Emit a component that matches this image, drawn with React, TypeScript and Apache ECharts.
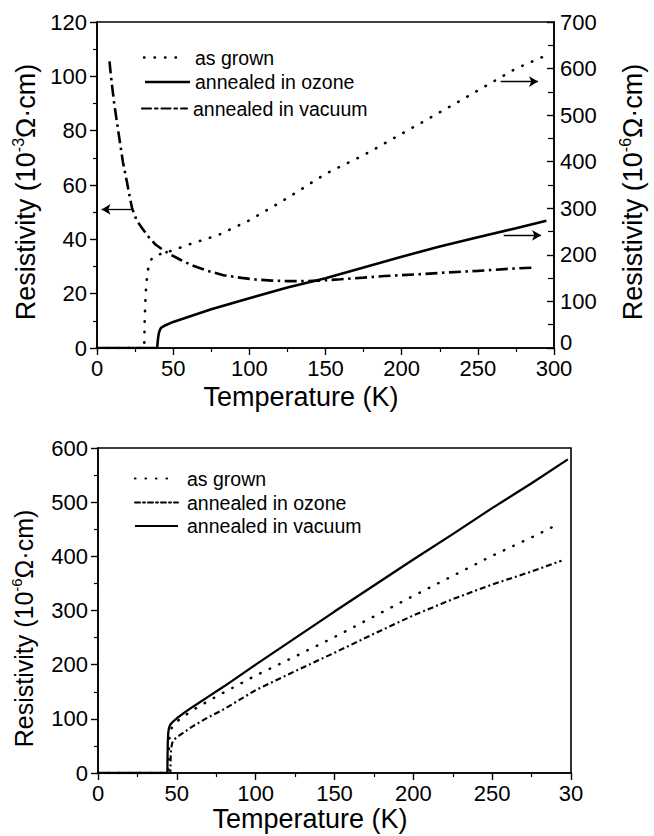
import React, { useEffect, useRef } from "react";
import * as echarts from "echarts";

const FONT = "'Liberation Sans', Arial, Helvetica, sans-serif";

// ---- Top panel: temperature (K) and resistivity ----
// as grown (right axis, 10^-6 Ω·cm)
const topGrownT = [0, 31, 31.3, 31.8, 32.3, 33.3, 34.4, 36, 38.6, 45, 50, 60, 80, 100, 125, 150, 175, 200, 225, 250, 275, 294];
const topGrownRho = [0, 0, 60, 105, 135, 165, 182, 192, 199, 205, 210, 222, 243, 274, 322, 374, 414, 460, 506, 553, 600, 627];
// annealed in ozone (right axis, 10^-6 Ω·cm)
const topOzoneT = [0, 39.5, 39.8, 40.2, 40.7, 41.3, 42, 45, 50, 75, 100, 125, 150, 175, 200, 225, 250, 275, 295];
const topOzoneRho = [0, 0, 12, 24, 33, 39, 43, 49, 56, 83, 107, 130, 150, 173, 196, 218, 238, 257, 273];
// annealed in vacuum (left axis, 10^-3 Ω·cm)
const topVacT = [8.2, 9, 10, 11.3, 13, 14.5, 17, 19.7, 21, 23, 26, 30, 34, 38.6, 43, 47, 55, 62, 72, 83, 95, 104, 115, 125, 135, 146, 160, 175, 189, 210, 230, 250, 272, 288];
const topVacRho = [105.5, 101, 96, 90, 83.5, 77.8, 68.5, 61, 57, 51.5, 47, 43.8, 40.8, 38, 36.2, 34.8, 32.4, 30.5, 28.5, 26.8, 25.8, 25.2, 24.8, 24.6, 24.6, 24.8, 25.3, 25.9, 26.5, 27.1, 27.8, 28.4, 29.2, 29.6];

// ---- Bottom panel (10^-6 Ω·cm) ----
const botGrownT = [0, 44.7, 44.9, 45.2, 45.6, 46.5, 48, 50, 55, 60, 70, 80, 100, 125, 150, 175, 200, 225, 250, 275, 293];
const botGrownRho = [0, 0, 35, 60, 73, 82, 89, 95, 106, 116, 133, 149, 180, 215, 251, 289, 327, 364, 401, 435, 461];
const botOzoneT = [0, 45.9, 46.1, 46.4, 47, 48, 50, 55, 60, 70, 80, 100, 125, 150, 175, 200, 225, 250, 275, 294];
const botOzoneRho = [0, 0, 30, 45, 55, 61, 66, 76, 86, 103, 118, 153, 188, 222, 257, 291, 321, 348, 372, 392];
const botVacT = [0, 44, 44.1, 44.3, 44.6, 45, 46, 48, 50, 55, 60, 70, 80, 100, 125, 150, 175, 200, 225, 250, 275, 298];
const botVacRho = [0, 0, 30, 60, 75, 83, 90, 96, 101, 112, 122, 141, 160, 200, 249, 298, 346, 394, 441, 489, 535, 579];

const xTicks = { min: 0, max: 300, interval: 50 };
const topLeftTicks = { min: 0, max: 120, interval: 20 };
const topRightTicks = { min: 0, max: 700, interval: 100 };
const botTicks = { min: 0, max: 600, interval: 100 };

const legendTop = ["as grown", "annealed in ozone", "annealed in vacuum"];
const legendBot = ["as grown", "annealed in ozone", "annealed in vacuum"];

const zip = (a: number[], b: number[]) => a.map((v, i) => [v, b[i]]);

const DOT = [0.5, 10];
const DASHDOT_TOP = [12, 4.5, 2.5, 4.5];
const DASHDOT_BOT = [6, 3, 2, 3];
const TICK_FS = 22;

function axisCommon() {
  return {
    axisLine: { show: true, lineStyle: { color: "#000", width: 1.6 } },
    axisTick: { show: true, length: 7, lineStyle: { color: "#000", width: 1.4 } },
    minorTick: { show: true, splitNumber: 2, length: 4, lineStyle: { color: "#000", width: 1.2 } },
    splitLine: { show: false },
    axisLabel: { color: "#000", fontSize: TICK_FS, fontFamily: FONT },
  };
}

function yName(exp: string) {
  return `{n|Resistivity (10}{s|${exp}}{n|Ω·cm)}`;
}

function yNameStyle(pad: number, fs: number) {
  return {
    padding: [0, pad, 0, 0],
    rich: {
      n: { fontSize: fs, fontFamily: FONT, color: "#000", lineHeight: fs + 4 },
      s: { fontSize: Math.round(fs * 0.6), fontFamily: FONT, color: "#000", lineHeight: Math.round(fs * 0.6), verticalAlign: "top" },
    },
  };
}

export default function App() {
  const ref = useRef<HTMLDivElement>(null);
  useEffect(() => {
    if (!ref.current) return;
    const chart = echarts.init(ref.current, undefined, { renderer: "svg" });
    const black = "#000";
    const legendText = (text: string, x: number, y: number) => ({
      type: "text",
      style: { text, x, y, fontSize: 19.5, fontFamily: FONT, fill: black, verticalAlign: "middle" },
    });
    const legendLine = (x1: number, x2: number, y: number, dash: any, w: number) => ({
      type: "line",
      shape: { x1, y1: y, x2, y2: y },
      style: { stroke: black, lineWidth: w, lineDash: dash, lineCap: dash ? "round" : "butt" },
    });
    const xLabel = { ...axisCommon().axisLabel, margin: 9 };
    const option: any = {
      animation: false,
      backgroundColor: "#fff",
      grid: [
        { left: 97, right: 81, top: 22, bottom: 488, show: true, borderColor: black, borderWidth: 1.6, backgroundColor: "transparent" },
        { left: 98, right: 83, top: 448, bottom: 63, show: true, borderColor: black, borderWidth: 1.6, backgroundColor: "transparent" },
      ],
      xAxis: [
        {
          gridIndex: 0, type: "value", ...xTicks, ...axisCommon(),
          axisLabel: xLabel,
          name: "Temperature (K)", nameLocation: "middle", nameGap: 35,
          nameTextStyle: { fontSize: 27, fontFamily: FONT, color: black, padding: [0, 49, 0, 0] },
        },
        {
          gridIndex: 1, type: "value", ...xTicks, ...axisCommon(),
          axisLabel: { ...xLabel, formatter: (v: number) => (v === 300 ? "30" : String(v)) },
          name: "Temperature (K)", nameLocation: "middle", nameGap: 32,
          nameTextStyle: { fontSize: 27, fontFamily: FONT, color: black, padding: [0, 49, 0, 0] },
        },
      ],
      yAxis: [
        {
          gridIndex: 0, type: "value", position: "left", ...topLeftTicks, ...axisCommon(),
          axisLabel: { ...axisCommon().axisLabel, margin: 10 },
          name: yName("-3"), nameLocation: "middle", nameGap: 52, nameRotate: 90,
          nameTextStyle: yNameStyle(14, 27),
        },
        {
          gridIndex: 0, type: "value", position: "right", ...topRightTicks, ...axisCommon(),
          axisTick: { ...axisCommon().axisTick, inside: true },
          minorTick: { ...axisCommon().minorTick, length: 6 },
          axisLabel: {
            ...axisCommon().axisLabel, margin: 6,
            formatter: (v: number) => (v === 0 ? "{z|0}" : String(v)),
            rich: { z: { fontSize: TICK_FS, fontFamily: FONT, color: "#000", padding: [0, 0, 12, 0] } },
          },
          name: yName("-6"), nameLocation: "middle", nameGap: 63, nameRotate: 90,
          nameTextStyle: yNameStyle(14, 27),
        },
        {
          gridIndex: 1, type: "value", position: "left", ...botTicks, ...axisCommon(),
          axisLabel: { ...axisCommon().axisLabel, margin: 10 },
          name: yName("-6"), nameLocation: "middle", nameGap: 60, nameRotate: 90,
          nameTextStyle: yNameStyle(36, 25),
        },
      ],
      series: [
        {
          name: "as grown", type: "line", xAxisIndex: 0, yAxisIndex: 1, showSymbol: false, symbol: "none",
          data: zip(topGrownT, topGrownRho),
          lineStyle: { color: black, width: 2.6, type: DOT, cap: "round" },
          markLine: {
            silent: true, symbol: ["none", "arrow"], symbolSize: [8, 9], label: { show: false },
            lineStyle: { color: black, width: 1.3, type: "solid" },
            data: [[{ coord: [265, 572] }, { coord: [289.5, 572] }]],
          },
        },
        {
          name: "annealed in ozone", type: "line", xAxisIndex: 0, yAxisIndex: 1, showSymbol: false, symbol: "none",
          data: zip(topOzoneT, topOzoneRho),
          lineStyle: { color: black, width: 2.6, type: "solid" },
          markLine: {
            silent: true, symbol: ["none", "arrow"], symbolSize: [8, 9], label: { show: false },
            lineStyle: { color: black, width: 1.3, type: "solid" },
            data: [[{ coord: [267, 242] }, { coord: [291.5, 242] }]],
          },
        },
        {
          name: "annealed in vacuum", type: "line", xAxisIndex: 0, yAxisIndex: 0, showSymbol: false, symbol: "none",
          data: zip(topVacT, topVacRho),
          lineStyle: { color: black, width: 2.6, type: DASHDOT_TOP },
          markLine: {
            silent: true, symbol: ["none", "arrow"], symbolSize: [8, 9], label: { show: false },
            lineStyle: { color: black, width: 1.3, type: "solid" },
            data: [[{ coord: [23, 51] }, { coord: [3, 51] }]],
          },
        },
        {
          name: "as grown (b)", type: "line", xAxisIndex: 1, yAxisIndex: 2, showSymbol: false, symbol: "none",
          data: zip(botGrownT, botGrownRho),
          lineStyle: { color: black, width: 2.5, type: DOT, cap: "round" },
        },
        {
          name: "annealed in ozone (b)", type: "line", xAxisIndex: 1, yAxisIndex: 2, showSymbol: false, symbol: "none",
          data: zip(botOzoneT, botOzoneRho),
          lineStyle: { color: black, width: 2.1, type: DASHDOT_BOT },
        },
        {
          name: "annealed in vacuum (b)", type: "line", xAxisIndex: 1, yAxisIndex: 2, showSymbol: false, symbol: "none",
          data: zip(botVacT, botVacRho),
          lineStyle: { color: black, width: 2.3, type: "solid" },
        },
      ],
      graphic: [
        legendLine(144, 184, 57.5, DOT, 2.4),
        legendText(legendTop[0], 195, 57.5),
        legendLine(145, 190, 82, null, 2.4),
        legendText(legendTop[1], 195, 82),
        legendLine(142, 187, 108.5, [9, 4, 2.5, 4], 2.2),
        legendText(legendTop[2], 193, 108.5),
        legendLine(135, 175, 478.5, DOT, 2.2),
        legendText(legendBot[0], 187, 478.5),
        legendLine(135, 178, 502.5, [5, 3, 2, 3], 2),
        legendText(legendBot[1], 187, 502.5),
        legendLine(135, 178, 526, null, 2),
        legendText(legendBot[2], 187, 526),
      ],
    };
    chart.setOption(option);
    return () => chart.dispose();
  }, []);
  return (
    <div
      ref={ref}
      style={{ position: "absolute", left: 0, top: 0, width: 654, height: 836, background: "#fff" }}
    />
  );
}
